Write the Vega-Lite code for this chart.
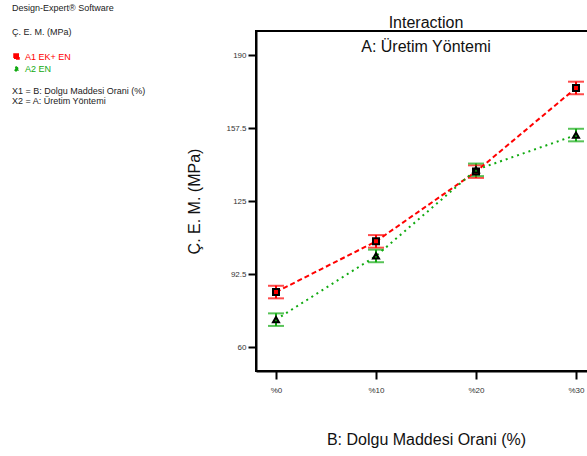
{
  "$schema": "https://vega.github.io/schema/vega-lite/v6.json",
  "autosize": "none",
  "padding": {"left": 256, "top": 31, "right": 0, "bottom": 85},
  "width": 340,
  "height": 340,
  "background": "white",
  "config": {
    "font": "Liberation Sans",
    "view": {"stroke": "black", "strokeWidth": 2},
    "axis": {
      "grid": false,
      "domainColor": "black",
      "domainWidth": 2,
      "tickColor": "black",
      "tickWidth": 2,
      "tickSize": 8,
      "labelFontSize": 8,
      "labelColor": "#333333",
      "titleFontSize": 16,
      "titleFontWeight": "normal",
      "titleColor": "#111111"
    }
  },
  "title": {
    "text": "Interaction",
    "subtitle": "A: Üretim Yöntemi",
    "fontSize": 16,
    "fontWeight": "normal",
    "subtitleFontSize": 16,
    "color": "#111111",
    "subtitleColor": "#111111",
    "anchor": "middle",
    "offset": -51,
    "subtitlePadding": 8
  },
  "data": {
    "values": [
      {"B": 0, "series": "A1 EK+ EN", "cem": 84.5, "lo": 81.7, "hi": 87.3},
      {"B": 10, "series": "A1 EK+ EN", "cem": 107.1, "lo": 104.3, "hi": 109.9},
      {"B": 20, "series": "A1 EK+ EN", "cem": 138.2, "lo": 135.4, "hi": 141.0},
      {"B": 30, "series": "A1 EK+ EN", "cem": 175.5, "lo": 172.7, "hi": 178.3},
      {"B": 0, "series": "A2 EN", "cem": 72.2, "lo": 69.4, "hi": 75.0},
      {"B": 10, "series": "A2 EN", "cem": 100.6, "lo": 97.8, "hi": 103.4},
      {"B": 20, "series": "A2 EN", "cem": 139.0, "lo": 136.2, "hi": 141.8},
      {"B": 30, "series": "A2 EN", "cem": 154.5, "lo": 151.7, "hi": 157.3}
    ]
  },
  "encoding": {
    "x": {
      "field": "B",
      "type": "quantitative",
      "scale": {"domain": [-2, 32], "nice": false, "zero": false},
      "axis": {
        "values": [0, 10, 20, 30],
        "labelExpr": "'%' + datum.value",
        "labelPadding": 7,
        "title": "B: Dolgu Maddesi Orani (%)",
        "titlePadding": 37
      }
    },
    "color": {
      "field": "series",
      "type": "nominal",
      "scale": {"domain": ["A1 EK+ EN", "A2 EN"], "range": ["#ff0000", "#11aa11"]},
      "legend": {
        "orient": "none",
        "legendX": -244,
        "legendY": -27,
        "padding": 0,
        "title": ["Design-Expert® Software", "Ç. E. M. (MPa)"],
        "titleFontSize": 9,
        "titleFontWeight": "normal",
        "titleColor": "#222222",
        "titleLineHeight": 24,
        "titlePadding": 15,
        "labelFontSize": 9,
        "labelOffset": 4,
        "rowPadding": 1,
        "symbolSize": 25,
        "symbolStrokeColor": "black",
        "symbolStrokeWidth": 1.5,
        "encode": {
          "labels": {"update": {"fill": {"scale": "color", "field": "value"}}},
          "symbols": {"update": {"stroke": {"value": "black"}, "strokeWidth": {"value": 1.5}}}
        }
      }
    }
  },
  "layer": [
    {
      "mark": {"type": "rule", "strokeWidth": 2},
      "encoding": {
        "y": {
          "field": "lo",
          "type": "quantitative",
          "scale": {"domain": [49.3, 200.9], "nice": false, "zero": false},
          "axis": {
            "values": [60, 92.5, 125, 157.5, 190],
            "format": ".1~f",
            "labelPadding": 2,
            "title": "Ç. E. M. (MPa)",
            "titlePadding": 23
          }
        },
        "y2": {"field": "hi"},
        "opacity": {
          "datum": "X1 = B: Dolgu Maddesi Orani (%)",
          "type": "ordinal",
          "scale": {"domain": ["X1 = B: Dolgu Maddesi Orani (%)", "X2 = A: Üretim Yöntemi"], "range": [1, 1]},
          "legend": {
            "orient": "none",
            "legendX": -253,
            "legendY": 55,
            "padding": 0,
            "title": null,
            "labelFontSize": 9,
            "labelColor": "#222222",
            "labelOffset": 0,
            "rowPadding": 0,
            "symbolSize": 0,
            "symbolOpacity": 0
          }
        }
      }
    },
    {
      "mark": {"type": "tick", "orient": "horizontal", "size": 16, "thickness": 2},
      "encoding": {"y": {"field": "lo", "type": "quantitative"}}
    },
    {
      "mark": {"type": "tick", "orient": "horizontal", "size": 16, "thickness": 2},
      "encoding": {"y": {"field": "hi", "type": "quantitative"}}
    },
    {
      "mark": {"type": "line", "strokeWidth": 2},
      "encoding": {
        "y": {"field": "cem", "type": "quantitative"},
        "strokeDash": {
          "field": "series",
          "type": "nominal",
          "scale": {"domain": ["A1 EK+ EN", "A2 EN"], "range": [[5, 3], [2, 4]]},
          "legend": null
        }
      }
    },
    {
      "mark": {"type": "point", "filled": true, "stroke": "black", "strokeWidth": 2, "size": 36, "opacity": 1},
      "encoding": {
        "y": {"field": "cem", "type": "quantitative"},
        "shape": {
          "field": "series",
          "type": "nominal",
          "scale": {"domain": ["A1 EK+ EN", "A2 EN"], "range": ["square", "triangle-up"]}
        }
      }
    }
  ]
}
